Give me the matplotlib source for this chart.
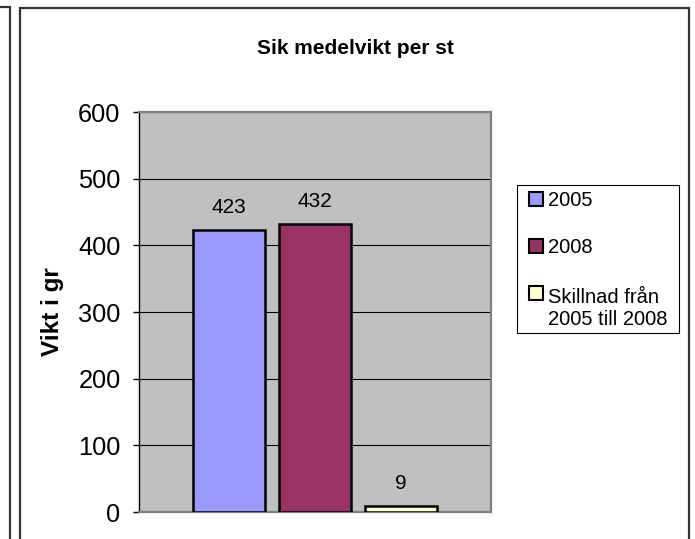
import matplotlib.pyplot as plt
from matplotlib.patches import Rectangle

plt.rcParams['font.family'] = ['Liberation Sans', 'DejaVu Sans']

series = ["2005", "2008", "Skillnad från\n2005 till 2008"]
values = [423, 432, 9]
colors = ["#9999FF", "#993366", "#FFFFCC"]
yticks = [0, 100, 200, 300, 400, 500, 600]

W, H = 695, 539
fig = plt.figure(figsize=(W / 100, H / 100), dpi=100)


def fx(px):
    return px / W


def fy(py):
    return 1 - py / H


# outer chart borders
fig.patches.append(Rectangle((fx(20), fy(560)), fx(669), 552 / H, transform=fig.transFigure,
                             fill=False, edgecolor="#333333", linewidth=1.6))
fig.patches.append(Rectangle((fx(-20), fy(560)), fx(29.5), 553 / H, transform=fig.transFigure,
                             fill=False, edgecolor="#333333", linewidth=1.6))

ax = fig.add_axes([fx(139), fy(512), fx(352), 400 / H])
ax.set_facecolor("#C0C0C0")

pos = [-1, 0, 1]
bars = ax.bar(pos, values, width=0.837, color=colors, edgecolor="black", linewidth=1.8, zorder=3)
for x, v in zip(pos, values):
    ax.annotate(str(v), (x, v), xytext=(0, 12.5), textcoords="offset points",
                ha="center", va="baseline", fontsize=15)

ax.set_xlim(-2.047, 2.047)
ax.set_ylim(0, 600)
ax.set_yticks(yticks)
ax.set_xticks([])
ax.tick_params(axis="y", labelsize=18.3, length=4.3, width=1, pad=9, color="black")
ax.yaxis.grid(True, color="black", linewidth=0.8, zorder=1)
ax.set_axisbelow(True)
for s in ["top", "right", "bottom"]:
    ax.spines[s].set_color("#808080")
    ax.spines[s].set_linewidth(1.6)
ax.spines["left"].set_color("black")
ax.spines["left"].set_linewidth(1)

fig.text(fx(355), fy(54), "Sik medelvikt per st", ha="center", va="baseline",
         fontsize=15, fontweight="bold")
fig.text(fx(53), fy(312), "Vikt i gr", ha="center", va="center", rotation=90,
         fontsize=17.5, fontweight="bold")

# legend
fig.patches.append(Rectangle((fx(517), fy(333)), fx(162), 148 / H, transform=fig.transFigure,
                             facecolor="white", edgecolor="black", linewidth=0.8))
handle_bottoms = [206, 253, 300]
text_baselines = [206, 253, 325]
for label, c, b, t in zip(series, colors, handle_bottoms, text_baselines):
    fig.patches.append(Rectangle((fx(529), fy(b)), fx(14), 14 / H, transform=fig.transFigure,
                                 facecolor=c, edgecolor="black", linewidth=1.5))
    fig.text(fx(548), fy(t), label, ha="left", va="baseline", fontsize=14.5, linespacing=1.2)

fig.savefig("out.png", dpi=100)
